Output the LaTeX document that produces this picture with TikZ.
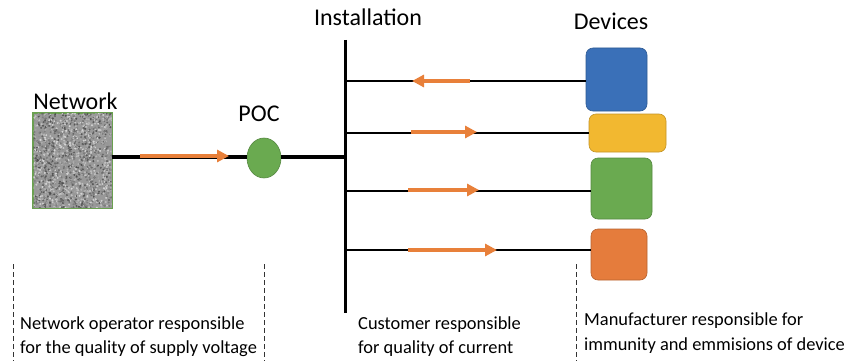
\documentclass[tikz,border=0pt]{standalone}
\usepackage{fontspec}
\setmainfont{Carlito}
\usetikzlibrary{arrows.meta,shapes.geometric}
\definecolor{arrorange}{HTML}{E8803A}
\definecolor{devblue}{HTML}{3A70B8}
\definecolor{devyellow}{HTML}{F2B830}
\definecolor{devgreen}{HTML}{6AAA50}
\definecolor{devorange}{HTML}{E57C3C}
\definecolor{netgreen}{HTML}{6AA050}
\tikzset{
  flow/.style={draw=arrorange,line width=4pt,-{Triangle[length=12pt,width=12pt]}},
  wire/.style={draw=black,line width=1.6pt},
  thickwire/.style={draw=black,line width=3.6pt},
  device/.style={rounded corners=7pt,draw=#1!80!black,line width=0.6pt,fill=#1,inner sep=0pt},
  title/.style={font=\fontsize{24}{28}\selectfont,inner sep=0pt,anchor=base},
  note/.style={font=\fontsize{18.4}{24}\selectfont,inner sep=0pt,anchor=base west},
  boundary/.style={draw=black!80,line width=0.8pt,dash pattern=on 5pt off 3pt}
}
\begin{document}
\begin{tikzpicture}[x=1pt,y=-1pt]
\useasboundingbox[fill=white] (0,0) rectangle (850,361);
% network box with noise texture
\node[draw=netgreen,line width=0.8pt,fill=black!40,minimum width=79pt,minimum height=95pt,inner sep=0pt] (net) at (72.5,160.5) {};
\begin{scope}
  \clip (33.5,113.5) rectangle (111.5,207.5);
  \pgfmathsetseed{7}
  \foreach \i in {1,...,1800}{
    \pgfmathsetmacro{\px}{33+79*rnd}
    \pgfmathsetmacro{\py}{113+95*rnd}
    \pgfmathsetmacro{\gv}{15+55*rnd}
    \fill[black!\gv!white] (\px,\py) circle (1.1pt);
  }
\end{scope}
\draw[netgreen,line width=0.8pt] (net.south west) rectangle (net.north east);
\node[title] (netlbl) at (75.5,109) {Network};
% POC
\node[ellipse,draw=devgreen!80!black,line width=0.6pt,fill=devgreen,minimum width=34pt,minimum height=40pt,inner sep=0pt] (poc) at (264,158) {};
\node[title] (poclbl) at (259,121) {POC};
% bus
\coordinate (bt) at (345,40);
\coordinate (bb) at (345,313);
\coordinate (j) at (345,157);
\draw[line width=3pt] (bt) -- (bb);
\node[title] (inst) at (368,26) {Installation};
\draw[thickwire] (net.east |- j) -- (poc.west |- j);
\draw[thickwire] (poc.east |- j) -- (j);
% devices
\node[device=devblue,minimum width=61pt,minimum height=63pt] (d1) at (616.5,79.5) {};
\node[device=devyellow,minimum width=77pt,minimum height=38pt] (d2) at (627.5,133) {};
\node[device=devgreen,minimum width=61pt,minimum height=61pt] (d3) at (621.5,188.5) {};
\node[device=devorange,minimum width=56pt,minimum height=51pt] (d4) at (619,254.5) {};
\node[title] (devlbl) at (611,30) {Devices};
% branch wires
\coordinate (b1) at (345,81);
\coordinate (b2) at (345,133);
\coordinate (b3) at (345,191);
\coordinate (b4) at (345,250);
\draw[wire] (b1) -- (b1 -| d1.west);
\draw[wire] (b2) -- (b2 -| d2.west);
\draw[wire] (b3) -- (b3 -| d3.west);
\draw[wire] (b4) -- (b4 -| d4.west);
% flow arrows
\coordinate (f0s) at (140,156); \coordinate (f0e) at (229,156);
\coordinate (f1s) at (470,81);  \coordinate (f1e) at (412,81);
\coordinate (f2s) at (411,132); \coordinate (f2e) at (477,132);
\coordinate (f3s) at (408,190); \coordinate (f3e) at (479,190);
\coordinate (f4s) at (408,250); \coordinate (f4e) at (497,250);
\draw[flow] (f0s) -- (f0e);
\draw[flow] (f1s) -- (f1e);
\draw[flow] (f2s) -- (f2e);
\draw[flow] (f3s) -- (f3e);
\draw[flow] (f4s) -- (f4e);
% boundaries
\coordinate (v1t) at (13,264); \coordinate (v1b) at (13,361);
\coordinate (v2t) at (264,264); \coordinate (v2b) at (264,361);
\coordinate (v3t) at (576,264); \coordinate (v3b) at (576,361);
\draw[boundary] (v1t) -- (v1b);
\draw[boundary] (v2t) -- (v2b);
\draw[boundary] (v3t) -- (v3b);
% notes
\node[note] (n1a) at (20,329) {Network operator responsible};
\node[note] (n1b) at (20,353) {for the quality of supply voltage};
\node[note] (n2a) at (358,329) {Customer responsible};
\node[note] (n2b) at (358,353) {for quality of current};
\node[note] (n3a) at (584,325) {Manufacturer responsible for};
\node[note] (n3b) at (584,350) {immunity and emmisions of device};
\end{tikzpicture}
\end{document}
